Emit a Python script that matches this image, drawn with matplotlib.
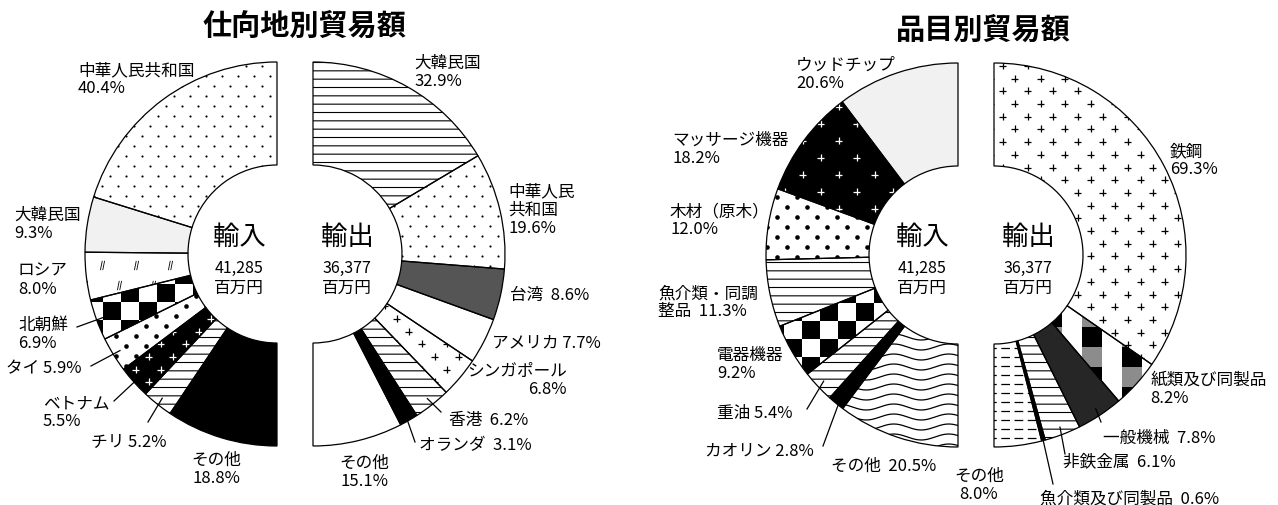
import numpy as np
import matplotlib.pyplot as plt
from matplotlib.path import Path

plt.rcParams['font.family'] = ['Noto Sans CJK JP', 'DejaVu Sans']
plt.rcParams['hatch.linewidth'] = 0.8

# ------------------------------
# DATA
# ------------------------------

DEST_IMP_NAMES = ["中華人民共和国", "大韓民国", "ロシア", "北朝鮮", "タイ", "ベトナム", "チリ", "その他"]
DEST_IMP_PCT = [40.4, 9.3, 8.0, 6.9, 5.9, 5.5, 5.2, 18.8]
DEST_EXP_NAMES = ["大韓民国", "中華人民\n共和国", "台湾", "アメリカ", "シンガポール", "香港", "オランダ", "その他"]
DEST_EXP_PCT = [32.9, 19.6, 8.6, 7.7, 6.8, 6.2, 3.1, 15.1]

ITEM_IMP_NAMES = ["ウッドチップ", "マッサージ機器", "木材（原木）", "魚介類・同調\n整品", "電器機器", "重油", "カオリン", "その他"]
ITEM_IMP_PCT = [20.6, 18.2, 12.0, 11.3, 9.2, 5.4, 2.8, 20.5]
ITEM_EXP_NAMES = ["鉄鋼", "紙類及び同製品", "一般機械", "非鉄金属", "魚介類及び同製品", "その他"]
ITEM_EXP_PCT = [69.3, 8.2, 7.8, 6.1, 0.6, 8.0]

TOTAL_IMP = 41285
TOTAL_EXP = 36377
TITLES = ["仕向地別貿易額", "品目別貿易額"]

# ------------------------------
# LAYOUT (pixels, y measured from top)
# ------------------------------

W_PX, H_PX = 1278, 506
R_OUT = 192
RING = 103

DEST_IMP_STYLE = ['dots', 'faint', 'strokes', 'checker', 'bigdots', 'plus_wb', 'hlines', 'black']
DEST_EXP_STYLE = ['hlines', 'dots', 'gray', 'white', 'plus_bw', 'hlines', 'black', 'white']
ITEM_IMP_STYLE = ['faint', 'plus_wb_big', 'bigdots', 'hlines', 'checker', 'hlines', 'black', 'wave']
ITEM_EXP_STYLE = ['plus_bw', 'paper', 'dark', 'hlines', 'black', 'dash']

DEST_IMP_LAB = [(78, 62), (14, 207), (18, 263), (18, 317), (6, 360), (43, 395), (91, 433), (216, 452)]
DEST_IMP_SEP = ["\n", "\n", "\n", "\n", " ", "\n", " ", "\n"]
DEST_IMP_LEAD = [None, None, None, (77, 328), (91, 367), (114, 402), (148, 423), None]

DEST_EXP_LAB = [(414, 55), (508, 183), (510, 287), (492, 335), (467, 363), (449, 412), (419, 437), (364, 455)]
DEST_EXP_SEP = ["\n", "\n", "  ", " ", "\n", "  ", "  ", "\n"]
DEST_EXP_LEAD = [None, None, None, None, None, (441, 413), (415, 443), None]

ITEM_IMP_LAB = [(796, 57), (672, 132), (670, 203), (658, 285), (717, 347), (717, 405), (705, 443), (831, 458)]
ITEM_IMP_SEP = ["\n", "\n", "\n", "  ", "\n", " ", " ", "  "]
ITEM_IMP_LEAD = [None, None, None, None, None, (807, 410), (823, 447), None]

ITEM_EXP_LAB = [(1170, 143), (1150, 372), (1103, 430), (1063, 453), (1040, 490), (979, 468)]
ITEM_EXP_SEP = ["\n", "\n", "  ", "  ", "  ", "\n"]
ITEM_EXP_LEAD = [None, None, (1101, 423), (1065, 455), (1053, 485), None]

STROKE = Path([(-0.45, -1), (-0.05, 1), (0.05, -1), (0.45, 1)],
              [Path.MOVETO, Path.LINETO, Path.MOVETO, Path.LINETO])
PLUS = Path([(-1, 0), (1, 0), (0, -1), (0, 1)],
            [Path.MOVETO, Path.LINETO, Path.MOVETO, Path.LINETO])


def Y(py):
    return H_PX - py


def lattice(cx, cy, dx, dy):
    rows = np.arange(cy - R_OUT, cy + R_OUT + dy, dy)
    xs, ys = [], []
    for i, yy in enumerate(rows):
        cols = np.arange(cx - R_OUT - (dx / 2) * (i % 2), cx + R_OUT + dx, dx)
        xs.extend(cols)
        ys.extend([yy] * len(cols))
    return np.round(np.array(xs)) + 0.5, np.round(np.array(ys)) + 0.5


def apply_style(ax, w, style):
    cx, cy = w.center
    arts = []
    if style == 'white':
        w.set_facecolor('white')
    elif style == 'black':
        w.set_facecolor('black')
    elif style == 'faint':
        w.set_facecolor('#f1f1f1')
    elif style == 'gray':
        w.set_facecolor('#555555')
    elif style == 'dark':
        w.set_facecolor('#262626')
    elif style == 'hlines':
        w.set_facecolor('white')
        w.set_hatch('--')
    elif style in ('dots', 'bigdots'):
        dx, dy, s = (16, 10, 2.4) if style == 'dots' else (20, 10, 11)
        xs, ys = lattice(cx, cy, dx, dy)
        arts.append(ax.scatter(xs, ys, s=s, c='black', marker='o', linewidths=0, zorder=2))
    elif style.startswith('plus'):
        big = style.endswith('big')
        dark = 'wb' in style
        w.set_facecolor('black' if dark else 'white')
        dx, dy = (36, 17) if big else (25, 12.7)
        xs, ys = lattice(cx, cy, dx, dy)
        arts.append(ax.scatter(xs, ys, s=22, marker=PLUS, facecolors='none',
                               edgecolors='white' if dark else 'black',
                               linewidths=0.9, zorder=2))
    elif style == 'strokes':
        w.set_facecolor('white')
        xs, ys = lattice(cx, cy, 34, 20)
        arts.append(ax.scatter(xs, ys, s=45, marker=STROKE, facecolors='none',
                               edgecolors='black', linewidths=0.6, zorder=2))
    elif style in ('checker', 'paper'):
        cell = 18 if style == 'checker' else 10
        n = int(2 * R_OUT / cell) + 2
        jj, ii = np.meshgrid(np.arange(n), np.arange(n))
        if style == 'checker':
            arr = ((ii + jj) % 2).astype(float)
        else:
            dark_col = (jj % 4) < 2
            shade = np.where(((ii // 2) + (jj // 4)) % 2 == 0, 0.0, 0.55)
            arr = np.where(dark_col, shade, 1.0)
        x0, y0 = cx - R_OUT, cy - R_OUT
        arts.append(ax.imshow(arr, cmap='gray', vmin=0, vmax=1, origin='lower',
                              extent=(x0, x0 + n * cell, y0, y0 + n * cell),
                              interpolation='nearest', aspect='auto', zorder=2))
    elif style in ('wave', 'dash'):
        w.set_facecolor('white')
        xs = np.linspace(cx - R_OUT, cx + R_OUT, 400)
        step = 10 if style == 'wave' else 9
        for y0 in np.arange(cy - R_OUT, cy + R_OUT, step):
            if style == 'wave':
                ln, = ax.plot(xs, y0 + 3 * np.sin(2 * np.pi * xs / 55), color='black', lw=0.9, zorder=2)
            else:
                ln, = ax.plot(xs[[0, -1]], [y0, y0], color='black', lw=0.9,
                              linestyle=(0, (7, 3.6)), zorder=2)
            arts.append(ln)
    for a in arts:
        a.set_clip_path(w)


def half_donut(ax, center, pcts, ccw, styles, names, labs, seps, leads):
    cx, cy = center[0], Y(center[1])
    vals = np.array(pcts) / 200.0
    wedges, _ = ax.pie(vals, radius=R_OUT, center=(cx, cy), startangle=90,
                       counterclock=ccw, normalize=False, colors=['white'] * len(vals),
                       wedgeprops=dict(width=RING, linewidth=0, edgecolor='black'))
    for w, st in zip(wedges, styles):
        apply_style(ax, w, st)
    outl, _ = ax.pie(vals, radius=R_OUT, center=(cx, cy), startangle=90,
                     counterclock=ccw, normalize=False,
                     wedgeprops=dict(width=RING, fill=False, edgecolor='black', linewidth=0.9))
    for w in outl:
        w.set_zorder(5)

    for k, (w, name, pct) in enumerate(zip(wedges, names, pcts)):
        lx, ly = labs[k]
        is_other = name == "その他" and seps[k] == "\n"
        ax.text(lx, Y(ly), f"{name}{seps[k]}{pct:.1f}%", fontsize=12,
                ha='center' if is_other else 'left', va='top', linespacing=1.1,
                multialignment='right' if name == "シンガポール" else ('center' if is_other else 'left'),
                zorder=6)
        if leads[k] is not None:
            mid = np.deg2rad((w.theta1 + w.theta2) / 2)
            ex = cx + 0.96 * R_OUT * np.cos(mid)
            ey = cy + 0.96 * R_OUT * np.sin(mid)
            ax.plot([leads[k][0], ex], [Y(leads[k][1]), ey], color='black', lw=0.9, zorder=6)
    return wedges


def centre_text(ax, x, word, total):
    ax.text(x, Y(237), word, fontsize=19, ha='center', va='center', zorder=6)
    ax.text(x, Y(268), f"{total:,}", fontsize=11.5, ha='center', va='center', zorder=6)
    ax.text(x, Y(288), "百万円", fontsize=12, ha='center', va='center', zorder=6)


fig = plt.figure(figsize=(W_PX / 100, H_PX / 100), dpi=100)
ax = fig.add_axes([0, 0, 1, 1])

half_donut(ax, (277, 255), DEST_IMP_PCT, True, DEST_IMP_STYLE, DEST_IMP_NAMES,
           DEST_IMP_LAB, DEST_IMP_SEP, DEST_IMP_LEAD)
half_donut(ax, (313, 255), DEST_EXP_PCT, False, DEST_EXP_STYLE, DEST_EXP_NAMES,
           DEST_EXP_LAB, DEST_EXP_SEP, DEST_EXP_LEAD)
half_donut(ax, (958, 256), ITEM_IMP_PCT, True, ITEM_IMP_STYLE, ITEM_IMP_NAMES,
           ITEM_IMP_LAB, ITEM_IMP_SEP, ITEM_IMP_LEAD)
half_donut(ax, (994, 256), ITEM_EXP_PCT, False, ITEM_EXP_STYLE, ITEM_EXP_NAMES,
           ITEM_EXP_LAB, ITEM_EXP_SEP, ITEM_EXP_LEAD)

centre_text(ax, 239, "輸入", TOTAL_IMP)
centre_text(ax, 347, "輸出", TOTAL_EXP)
centre_text(ax, 922, "輸入", TOTAL_IMP)
centre_text(ax, 1028, "輸出", TOTAL_EXP)

ax.text(304, Y(26), TITLES[0], fontsize=21, fontweight='bold', ha='center', va='center')
ax.text(983, Y(30), TITLES[1], fontsize=21, fontweight='bold', ha='center', va='center')

ax.set_xlim(0, W_PX)
ax.set_ylim(0, H_PX)
ax.set_aspect('auto')
ax.axis('off')

fig.savefig("out.png", dpi=100)
